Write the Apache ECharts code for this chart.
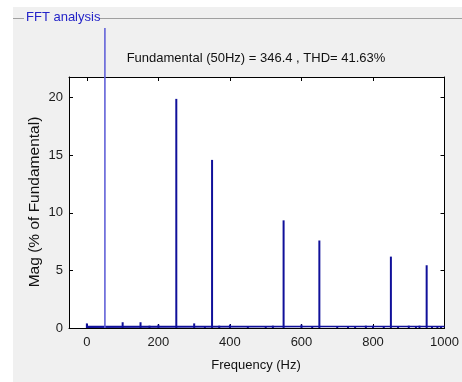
<!DOCTYPE html>
<html>
<head>
<meta charset="utf-8">
<script src="https://cdn.jsdelivr.net/npm/echarts@6/dist/echarts.min.js"></script>
<style>
  html, body { margin: 0; padding: 0; background: #ffffff; }
  #chart { width: 462px; height: 382px; }
</style>
</head>
<body>
<div id="chart"></div>
<script>
// Harmonic spectrum (Hz, % of fundamental)
const harmonicFreqs = [0, 100, 150, 175, 200, 250, 300, 330, 350, 370, 400, 450,
  500, 520, 550, 600, 630, 650, 700, 730, 750, 780, 800, 830, 850, 870,
  900, 920, 930, 950, 965, 980, 990];
const harmonicMags = [0.4, 0.5, 0.5, 0.2, 0.3, 19.9, 0.4, 0.15, 14.6, 0.2, 0.3, 0.15,
  0.15, 0.2, 9.35, 0.3, 0.15, 7.6, 0.15, 0.15, 0.15, 0.2, 0.2, 0.15, 6.2, 0.15,
  0.2, 0.15, 0.2, 5.45, 0.15, 0.15, 0.15];
// Fundamental component (50 Hz = 100 %)
const fundamentalFreq = [50];
const fundamentalMag = [100];
// Low-level noise floor across the band
const floorFreqs = [0, 1000];
const floorMags = [0.12, 0.12];

const xTickValues = [0, 200, 400, 600, 800, 1000];
const yTickValues = [0, 5, 10, 15, 20];
const titleText = 'Fundamental (50Hz) = 346.4 , THD= 41.63%';

const font = 'Arial, "Liberation Sans", sans-serif';
const textColor = '#1c1c1c';

const chart = echarts.init(document.getElementById('chart'));

const frameAxisX = (pos, labels) => ({
  type: 'value', gridIndex: 0, position: pos,
  min: -50, max: 1000,
  axisLine: { show: true, onZero: false, lineStyle: { color: '#000', width: 1 } },
  axisTick: { show: true, inside: true, length: 4, customValues: xTickValues, lineStyle: { color: '#000' } },
  axisLabel: { show: labels, customValues: xTickValues, formatter: v => String(v),
    color: textColor, fontSize: 13, fontFamily: font, margin: 8 },
  splitLine: { show: false }
});
const frameAxisY = (pos, labels) => ({
  type: 'value', gridIndex: 0, position: pos,
  min: 0, max: 21.8,
  axisLine: { show: true, onZero: false, lineStyle: { color: '#000', width: 1 } },
  axisTick: { show: true, inside: true, length: 4, customValues: yTickValues, lineStyle: { color: '#000' } },
  axisLabel: { show: labels, customValues: yTickValues, formatter: v => String(v),
    color: textColor, fontSize: 13, fontFamily: font, margin: 6 },
  splitLine: { show: false }
});

chart.setOption({
  backgroundColor: '#ffffff',
  animation: false,
  graphic: [
    { type: 'rect', shape: { x: 13, y: 7, width: 449, height: 375 }, style: { fill: '#f0f0f0' }, z: -10 },
    { type: 'line', shape: { x1: 13, y1: 18.5, x2: 24, y2: 18.5 }, style: { stroke: '#a0a0a0', lineWidth: 1 } },
    { type: 'line', shape: { x1: 100, y1: 18.5, x2: 462, y2: 18.5 }, style: { stroke: '#a0a0a0', lineWidth: 1 } },
    { type: 'text', left: 26, top: 11, style: { text: 'FFT analysis', fill: '#2424c8', font: '13px ' + font } },
    { type: 'text', x: 256, y: 58, style: { text: titleText, fill: '#111', font: '13px ' + font, align: 'center', verticalAlign: 'middle' } },
    { type: 'text', x: 256, y: 365, style: { text: 'Frequency (Hz)', fill: '#111', font: '13px ' + font, align: 'center', verticalAlign: 'middle' } },
    { type: 'text', x: 35, y: 202, rotation: Math.PI / 2, style: { text: 'Mag (% of Fundamental)', fill: '#111', font: '15.5px ' + font, align: 'center', verticalAlign: 'middle' } }
  ],
  grid: [
    { left: 69, right: 16, top: 77, bottom: 54, show: true, backgroundColor: '#ffffff', borderWidth: 0 },
    { left: 69, right: 16, top: 28, bottom: 54, show: false }
  ],
  xAxis: [
    frameAxisX('bottom', true),
    frameAxisX('top', false),
    { type: 'value', gridIndex: 1, min: -50, max: 1000, show: false }
  ],
  yAxis: [
    frameAxisY('left', true),
    frameAxisY('right', false),
    { type: 'value', gridIndex: 1, min: 0, max: 100, show: false }
  ],
  series: [
    {
      name: 'noise floor', type: 'line', xAxisIndex: 0, yAxisIndex: 0,
      data: floorFreqs.map((f, i) => [f, floorMags[i]]),
      symbol: 'none', lineStyle: { color: '#10109a', width: 1.5 },
      areaStyle: { color: '#10109a', opacity: 1 }, z: 3
    },
    {
      name: 'harmonics', type: 'bar', xAxisIndex: 0, yAxisIndex: 0,
      data: harmonicFreqs.map((f, i) => [f, harmonicMags[i]]),
      barWidth: 2, itemStyle: { color: '#10109a' }, z: 4
    },
    {
      name: 'fundamental', type: 'bar', xAxisIndex: 2, yAxisIndex: 2,
      data: fundamentalFreq.map((f, i) => [f, fundamentalMag[i]]),
      barWidth: 1.6, itemStyle: { color: '#6262d8' }, z: 5
    }
  ]
});
</script>
</body>
</html>
